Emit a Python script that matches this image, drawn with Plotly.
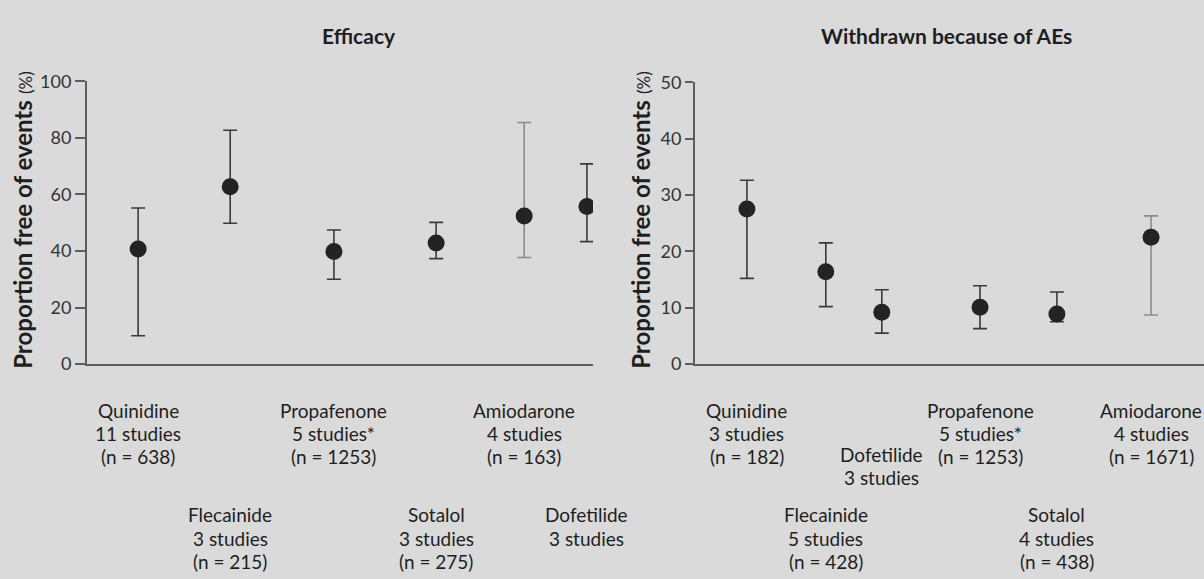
import plotly.graph_objects as go

# ---------------- data ----------------
eff_drugs = ["Quinidine", "Flecainide", "Propafenone", "Sotalol", "Amiodarone", "Dofetilide"]
eff_mean = [40.7, 62.7, 39.8, 42.8, 52.4, 55.7]
eff_upper = [55.2, 82.7, 47.4, 50.1, 85.4, 70.8]
eff_lower = [10.0, 49.8, 30.0, 37.3, 37.7, 43.3]
eff_labels = [
    ["Quinidine", "11 studies", "(n = 638)"],
    ["Flecainide", "3 studies", "(n = 215)"],
    ["Propafenone", "5 studies*", "(n = 1253)"],
    ["Sotalol", "3 studies", "(n = 275)"],
    ["Amiodarone", "4 studies", "(n = 163)"],
    ["Dofetilide", "3 studies"],
]

ae_drugs = ["Quinidine", "Flecainide", "Dofetilide", "Propafenone", "Sotalol", "Amiodarone"]
ae_mean = [27.5, 16.4, 9.2, 10.1, 8.9, 22.5]
ae_upper = [32.6, 21.5, 13.2, 13.9, 12.8, 26.3]
ae_lower = [15.2, 10.2, 5.5, 6.3, 7.5, 8.7]
ae_labels = [
    ["Quinidine", "3 studies", "(n = 182)"],
    ["Flecainide", "5 studies", "(n = 428)"],
    ["Dofetilide", "3 studies"],
    ["Propafenone", "5 studies*", "(n = 1253)"],
    ["Sotalol", "4 studies", "(n = 438)"],
    ["Amiodarone", "4 studies", "(n = 1671)"],
]

eff_ticks = [0, 20, 40, 60, 80, 100]
ae_ticks = [0, 10, 20, 30, 40, 50]

# ---------------- layout helpers (positions / styles) ----------------
W, H = 1204, 579
def py(px):
    return 1 - px / H

eff_pos = [10.1, 28.3, 48.8, 69.0, 86.4, 98.8]
ae_pos = [10.2, 25.7, 36.7, 56.0, 71.1, 89.6]
eff_rows = [0, 1, 0, 1, 0, 1]
ae_rows = [0, 1, 2, 0, 1, 0]
row_y = {0: [414, 438, 462], 1: [522, 547, 571], 2: [460, 484]}
light = {"Amiodarone"}

BG = "#dadada"
INK = "#1e1e1e"
AXC = "#5e5e5e"
FONT = "Lato"

fig = go.Figure()

def add_panel(drugs, mean, upper, lower, pos, xa, ya):
    for d, m, u, l, p in zip(drugs, mean, upper, lower, pos):
        col = "#8c8c8c" if d in light else "#3a3a3a"
        fig.add_trace(go.Scatter(
            x=[p], y=[m], mode="markers", xaxis=xa, yaxis=ya,
            marker=dict(size=17, color="#232323"),
            error_y=dict(type="data", symmetric=False,
                         array=[u - m], arrayminus=[m - l],
                         color=col, thickness=1.6, width=7),
            showlegend=False, hoverinfo="skip"))

add_panel(eff_drugs, eff_mean, eff_upper, eff_lower, eff_pos, "x", "y")
add_panel(ae_drugs, ae_mean, ae_upper, ae_lower, ae_pos, "x2", "y2")

annotations = []
def add_labels(labels, pos, rows, xref):
    for lines, p, r in zip(labels, pos, rows):
        ys = row_y[r]
        for t, yy in zip(lines, ys):
            annotations.append(dict(
                x=p, xref=xref, y=py(yy), yref="paper", text=t,
                showarrow=False, xanchor="center", yanchor="middle",
                font=dict(family=FONT, size=19, color=INK)))

add_labels(eff_labels, eff_pos, eff_rows, "x")
add_labels(ae_labels, ae_pos, ae_rows, "x2")

# titles
annotations.append(dict(x=359 / W, y=py(24), xref="paper", yref="paper",
                        text="<b>Efficacy</b>", showarrow=False,
                        xanchor="center", yanchor="middle",
                        font=dict(family=FONT, size=21, color=INK)))
annotations.append(dict(x=946 / W, y=py(24), xref="paper", yref="paper",
                        text="<b>Withdrawn because of AEs</b>", showarrow=False,
                        xanchor="center", yanchor="middle",
                        font=dict(family=FONT, size=21, color=INK)))
ytitle = "<b>Proportion free of events</b> <span style='font-size:17px'>(%)</span>"
for xp in (23, 641):
    annotations.append(dict(x=xp / W, y=py(216), xref="paper", yref="paper",
                            text=ytitle, showarrow=False, textangle=-90,
                            xanchor="center", yanchor="middle",
                            font=dict(family=FONT, size=24, color=INK)))

xcommon = dict(range=[0, 100], showline=True, linecolor=AXC, linewidth=2,
               showticklabels=False, ticks="", showgrid=False, zeroline=False,
               fixedrange=True)
ycommon = dict(showline=True, linecolor=AXC, linewidth=2, ticks="outside",
               tickcolor=AXC, tickwidth=1.5, showgrid=False, zeroline=False,
               tickfont=dict(family=FONT, size=18, color="#333333"))

fig.update_layout(
    width=W, height=H,
    margin=dict(l=0, r=0, t=0, b=0),
    paper_bgcolor=BG, plot_bgcolor=BG,
    xaxis=dict(domain=[87 / W, 593 / W], anchor="y", **xcommon),
    xaxis2=dict(domain=[695 / W, 1.0], anchor="y2", **xcommon),
    yaxis=dict(domain=[py(366), py(72)], range=[0, 100], anchor="x",
               tickvals=eff_ticks, ticklen=10, **ycommon),
    yaxis2=dict(domain=[py(366), py(73)], range=[0, 50], anchor="x2",
                tickvals=ae_ticks, ticklen=8, **ycommon),
    annotations=annotations,
)

fig.write_html("out.html",
               config={"displayModeBar": False},
               post_script="document.body.style.margin='0';document.body.style.overflow='hidden';")
